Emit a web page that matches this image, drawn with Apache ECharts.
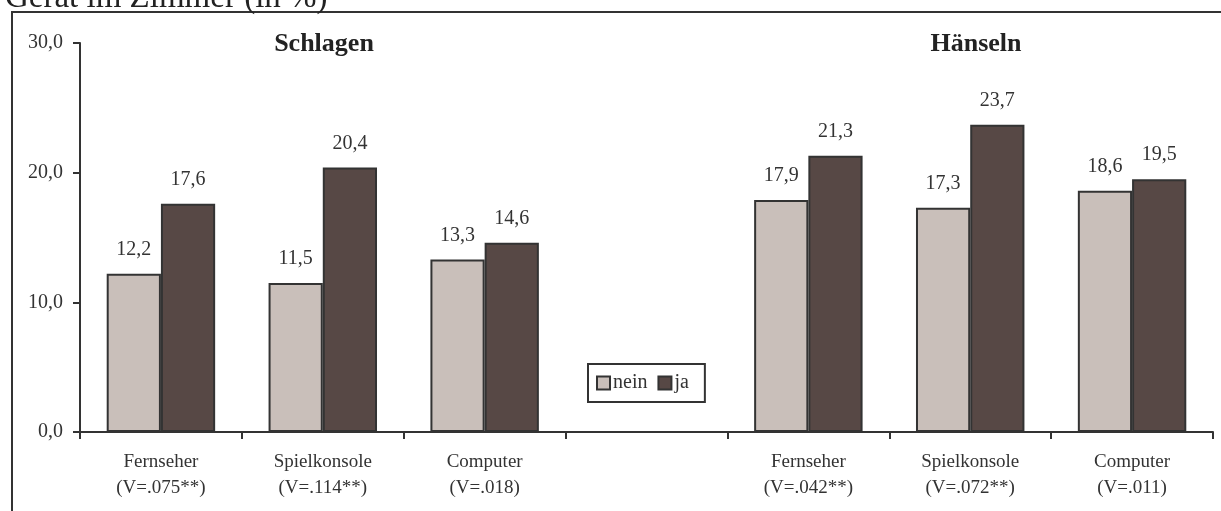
<!DOCTYPE html>
<html>
<head>
<meta charset="utf-8">
<script src="https://cdn.jsdelivr.net/npm/echarts@6/dist/echarts.min.js"></script>
<style>
html,body{margin:0;padding:0;background:#fff;}
#c{width:1221px;height:511px;}
</style>
</head>
<body>
<div id="c"></div>
<script>
const categories = ['Fernseher\n(V=.075**)', 'Spielkonsole\n(V=.114**)', 'Computer\n(V=.018)', '', 'Fernseher\n(V=.042**)', 'Spielkonsole\n(V=.072**)', 'Computer\n(V=.011)'];
const neinValues = [12.2, 11.5, 13.3, '-', 17.9, 17.3, 18.6];
const jaValues = [17.6, 20.4, 14.6, '-', 21.3, 23.7, 19.5];
const yTicks = [0, 10, 20, 30];
const groupTitles = ['Schlagen', 'Hänseln'];
const chartTitle = 'Gerät im Zimmer (in %)';

const FONT = "'Liberation Serif', 'Times New Roman', serif";
const fmt = v => Number(v).toFixed(1).replace('.', ',');

const chart = echarts.init(document.getElementById('c'), null, {renderer: 'canvas'});
chart.setOption({
  animation: false,
  backgroundColor: '#fff',
  textStyle: {fontFamily: FONT},
  grid: {left: 80, right: 8, top: 43, bottom: 79, containLabel: false},
  legend: {
    data: ['nein', 'ja'],
    left: 588, top: 364,
    orient: 'horizontal',
    itemWidth: 13, itemHeight: 13, itemGap: 10,
    padding: [9, 16, 9, 8],
    borderColor: '#333', borderWidth: 2,
    icon: 'rect',
    itemStyle: {borderColor: '#333', borderWidth: 2},
    textStyle: {fontFamily: FONT, fontSize: 20, color: '#333', padding: [0, 0, 0, -2]}
  },
  xAxis: {
    type: 'category',
    data: categories,
    axisLine: {lineStyle: {color: '#333', width: 2}},
    axisTick: {show: true, alignWithLabel: false, length: 7, lineStyle: {color: '#333', width: 2}},
    axisLabel: {fontFamily: FONT, fontSize: 19, color: '#333', margin: 17, lineHeight: 26, interval: 0}
  },
  yAxis: {
    type: 'value',
    min: yTicks[0], max: yTicks[yTicks.length - 1], interval: 10,
    splitLine: {show: false},
    axisLine: {show: true, lineStyle: {color: '#333', width: 2}},
    axisTick: {show: true, length: 7, lineStyle: {color: '#333', width: 2}},
    axisLabel: {fontFamily: FONT, fontSize: 20, color: '#333', margin: 17, formatter: v => fmt(v)}
  },
  series: [
    {
      name: 'nein', type: 'bar', data: neinValues,
      barGap: '0%', barCategoryGap: '33%',
      itemStyle: {color: '#C9BFBA', borderColor: '#333', borderWidth: 2},
      label: {show: true, position: 'top', distance: 14, fontFamily: FONT, fontSize: 20, color: '#333', formatter: p => fmt(p.value)}
    },
    {
      name: 'ja', type: 'bar', data: jaValues,
      itemStyle: {color: '#574845', borderColor: '#333', borderWidth: 2},
      label: {show: true, position: 'top', distance: 14, fontFamily: FONT, fontSize: 20, color: '#333', formatter: p => fmt(p.value)}
    }
  ],
  graphic: [
    {type: 'rect', shape: {x: 12, y: 12, width: 1300, height: 700}, style: {fill: 'none', stroke: '#333', lineWidth: 2}, silent: true},
    {type: 'text', x: 5, y: -2, style: {text: chartTitle, font: "33px " + FONT, fill: '#222', verticalAlign: 'middle'}},
    {type: 'text', x: 324, y: 44, style: {text: groupTitles[0], font: "bold 26px " + FONT, fill: '#222', align: 'center', verticalAlign: 'middle'}},
    {type: 'text', x: 976, y: 44, style: {text: groupTitles[1], font: "bold 26px " + FONT, fill: '#222', align: 'center', verticalAlign: 'middle'}}
  ]
});
</script>
</body>
</html>
